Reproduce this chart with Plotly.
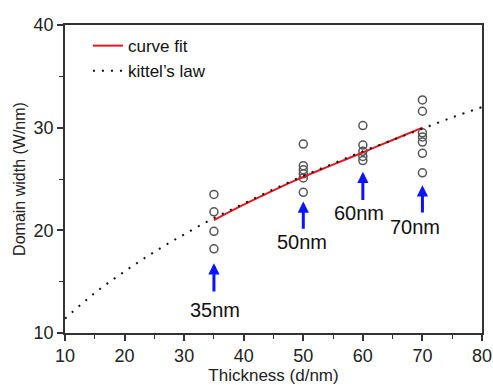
import plotly.graph_objects as go

# Measured domain widths at each thickness
thick_35 = [23.5, 21.8, 19.9, 18.2]
thick_50 = [28.4, 26.3, 25.9, 25.5, 25.1, 23.7]
thick_60 = [30.2, 28.3, 27.7, 27.2, 26.8]
thick_70 = [32.7, 31.6, 29.5, 29.1, 28.6, 27.5, 25.6]
groups = [(35, thick_35), (50, thick_50), (60, thick_60), (70, thick_70)]

# Curve fit
fit_x = [35, 40, 45, 50, 55, 60, 65, 70]
fit_y = [21.0, 22.5, 23.9, 25.2, 26.4, 27.6, 28.8, 30.0]

# Kittel's law curve
kit_x = [10, 15, 20, 25, 30, 35, 40, 45, 50, 55, 60, 65, 70, 75, 80]
kit_y = [11.4, 13.9, 16.0, 17.9, 19.6, 21.2, 22.6, 24.0, 25.3, 26.5, 27.7, 28.8, 29.9, 31.0, 32.0]

# Arrow annotations
arrow_x = [35, 50, 60, 70]
arrow_tail = [13.9, 20.0, 22.8, 21.6]
arrow_head = [16.8, 22.8, 25.7, 24.4]
labels = ["35nm", "50nm", "60nm", "70nm"]
label_x = [35.2, 49.7, 59.3, 68.7]
label_y = [12.2, 18.9, 21.7, 20.3]

FONT = "Liberation Sans, Arial, sans-serif"

fig = go.Figure()

for xv, ys in groups:
    fig.add_trace(go.Scatter(
        x=[xv] * len(ys), y=ys, mode="markers", showlegend=False,
        marker=dict(symbol="circle-open", size=8, color="#555555", line=dict(width=1.5)),
    ))

fig.add_trace(go.Scatter(
    x=fit_x, y=fit_y, mode="lines", name="curve fit", line_shape="spline",
    line=dict(color="#e8161b", width=2),
))
fig.add_trace(go.Scatter(
    x=kit_x, y=kit_y, mode="lines", name="kittel\u2019s law", line_shape="spline",
    line=dict(color="#111111", width=2, dash="2px,7px"),
))

for ax_, t, h in zip(arrow_x, arrow_tail, arrow_head):
    fig.add_annotation(
        x=ax_, y=h, ax=ax_, ay=t, xref="x", yref="y", axref="x", ayref="y",
        showarrow=True, arrowhead=2, arrowsize=0.75, arrowwidth=3, arrowcolor="#0a14ff", text="",
    )
for lab, lx, ly in zip(labels, label_x, label_y):
    fig.add_annotation(
        x=lx, y=ly, xref="x", yref="y", text=lab, showarrow=False,
        font=dict(family=FONT, size=20, color="#111111"),
    )

axis_common = dict(
    showline=True, linecolor="#333333", linewidth=1.5, mirror=True,
    ticks="outside", ticklen=6, tickwidth=1.5, tickcolor="#333333",
    showgrid=False, zeroline=False, automargin=False,
    tickfont=dict(family=FONT, size=18, color="#222222"),
)

fig.update_layout(
    width=493, height=385,
    margin=dict(l=65, r=11, t=25, b=52),
    paper_bgcolor="white", plot_bgcolor="white",
    font=dict(family=FONT, color="#222222"),
    xaxis=dict(range=[10, 80], dtick=10, tick0=10,
               title=dict(text="Thickness (d/nm)", font=dict(family=FONT, size=17), standoff=0),
               minor=dict(ticks="outside", ticklen=4, tickwidth=1.2, tickcolor="#333333", dtick=5, tick0=10),
               **axis_common),
    yaxis=dict(range=[10, 40], dtick=10, tick0=10,
               title=dict(text="Domain width (W/nm)", font=dict(family=FONT, size=16), standoff=4),
               minor=dict(ticks="outside", ticklen=4, tickwidth=1.2, tickcolor="#333333", dtick=5, tick0=10),
               **axis_common),
    legend=dict(x=0.055, y=0.99, xanchor="left", yanchor="top", bgcolor="rgba(0,0,0,0)",
                font=dict(family=FONT, size=17, color="#111111"), tracegroupgap=0),
    showlegend=True,
)

fig.write_html("out.html")
